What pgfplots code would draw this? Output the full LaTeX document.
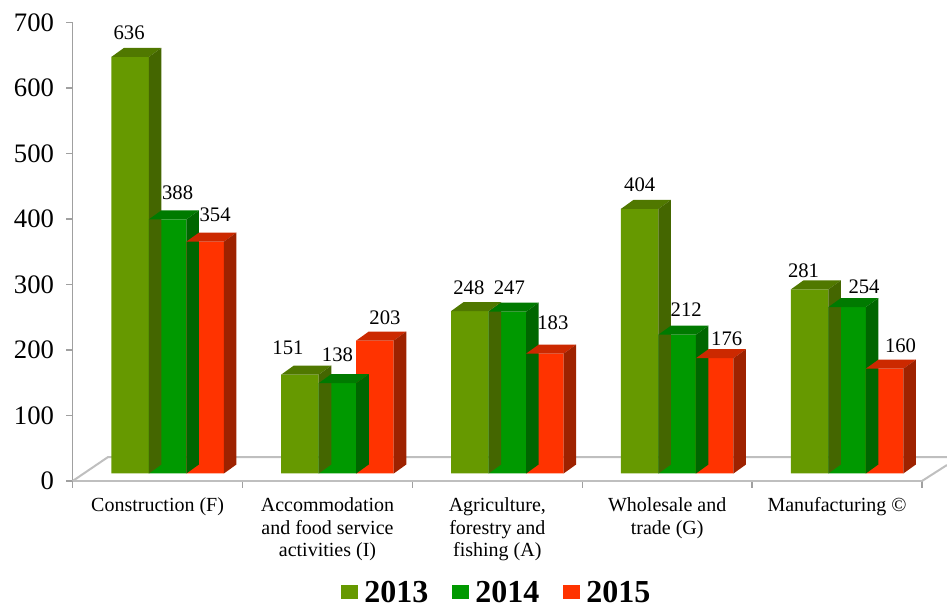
\documentclass[border=0pt]{standalone}
\usepackage{fontspec}
\setmainfont{Liberation Serif}
\usepackage{pgfplots}
\pgfplotsset{compat=1.18}
\usepackage{pgfplotstable}

\definecolor{c13}{HTML}{669900}\definecolor{c13t}{HTML}{507800}\definecolor{c13s}{HTML}{446600}
\definecolor{c14}{HTML}{009900}\definecolor{c14t}{HTML}{007A00}\definecolor{c14s}{HTML}{006600}
\definecolor{c15}{HTML}{FF3300}\definecolor{c15t}{HTML}{CC2900}\definecolor{c15s}{HTML}{9E2200}
\definecolor{floorc}{HTML}{BFBFBF}
\definecolor{axc}{HTML}{A0A0A0}

\def\bdx{9.4pt}\def\bdy{6.75pt}
\newcommand\drawbox[3]{%
  \pgfmathsetlengthmacro\bL{#1-14.0625pt}%
  \pgfmathsetlengthmacro\bR{#1+14.0625pt}%
  \pgfmathsetlengthmacro\bh{0.49125pt*\barv}%
  \pgfsetfillcolor{#2}%
  \pgfpathmoveto{\pgfqpoint{\bL}{0pt}}%
  \pgfpathlineto{\pgfqpoint{\bR}{0pt}}%
  \pgfpathlineto{\pgfpoint{\bR+\bdx}{\bdy}}%
  \pgfpathlineto{\pgfpoint{\bL+\bdx}{\bdy}}%
  \pgfpathclose\pgfusepath{fill}%
  \pgfsetfillcolor{#3}%
  \pgfpathmoveto{\pgfqpoint{\bR}{0pt}}%
  \pgfpathlineto{\pgfpoint{\bR+\bdx}{\bdy}}%
  \pgfpathlineto{\pgfpoint{\bR+\bdx}{\bdy-\bh}}%
  \pgfpathlineto{\pgfpoint{\bR}{-\bh}}%
  \pgfpathclose\pgfusepath{fill}}
\pgfdeclareplotmark{box13}{\drawbox{-20.625pt}{c13t}{c13s}}
\pgfdeclareplotmark{box14}{\drawbox{7.5pt}{c14t}{c14s}}
\pgfdeclareplotmark{box15}{\drawbox{35.625pt}{c15t}{c15s}}

% columns: category index, value, label offset x / y (px, from bar front-top centre of the category)
\pgfplotstableread{
x y lx ly
0 636 -28.5 24
1 151 -39.5 27
2 248 -28.5 23
3 404 -27.5 24
4 281 -33.5 19
}\tA
\pgfplotstableread{
x y lx ly
0 388 20 27
1 138 10 28
2 247 12 24
3 212 19 25
4 254 27 20
}\tB
\pgfplotstableread{
x y lx ly
0 354 57.5 27
1 203 57.5 23
2 183 55.5 31
3 176 59.5 19
4 160 63.5 23
}\tC

\begin{document}
\begin{tikzpicture}
\useasboundingbox (0pt,0pt) rectangle (710.25pt,455.25pt);
\begin{axis}[
  at={(54.525pt,94.5pt)}, anchor=south west, scale only axis,
  width=636.975pt, height=343.875pt,
  xmin=-0.5, xmax=4.5, ymin=0, ymax=700,
  axis x line*=bottom, axis y line*=left,
  x axis line style={floorc, line width=1.5pt},
  y axis line style={axc, line width=1pt},
  xtick={-0.5,0.5,1.5,2.5,3.5,4.5}, x tick label as interval,
  xticklabels={{Construction (F)},{Accommodation\\and food service\\activities (I)},{Agriculture,\\forestry and\\fishing (A)},{Wholesale and\\trade (G)},{Manufacturing ©}},
  ytick={0,100,...,700},
  tick align=outside, major tick length=5pt,
  tick style={axc, line width=1pt},
  xticklabel style={font=\fontsize{15}{17}\selectfont, align=center, yshift=-4pt},
  yticklabel style={font=\fontsize{20}{21}\selectfont, xshift=-5.5pt},
  /pgf/number format/assume math mode=true,
  clip=false,
]
\draw[floorc, line width=1.5pt] (axis cs:-0.5,0) -- (axis cs:-0.292,36.6) -- (axis cs:4.647,36.6);
\draw[floorc, line width=1.5pt] (axis cs:4.5,0) -- (axis cs:4.647,24.4);
\end{axis}
\begin{axis}[
  at={(54.525pt,94.5pt)}, anchor=south west, scale only axis,
  width=636.975pt, height=343.875pt,
  xmin=-0.5, xmax=4.5, ymin=-11.45, ymax=688.55,
  hide axis, clip=false,
  visualization depends on={\thisrow{lx}\as\labx},
  visualization depends on={\thisrow{ly}\as\laby},
  visualization depends on={\thisrow{y}\as\barv},
  every node near coord/.append style={font=\fontsize{15.5}{16}\selectfont, text=black, anchor=center, xshift={0.75pt*\labx}, yshift={0.75pt*\laby}, inner sep=0pt},
  /pgf/number format/assume math mode=true,
  legend columns=3,
  legend style={draw=none, fill=none, at={(0.4984,-0.2421)}, anchor=center,
    font=\bfseries\fontsize{24}{26}\selectfont,
    nodes={inner sep=0pt, text depth=0pt},
    /tikz/every odd column/.append style={column sep=4.5pt},
    /tikz/every even column/.append style={column sep=18pt}},
]
\addplot[ybar, bar width=28.125pt, bar shift=-20.625pt, fill=c13, draw=none, nodes near coords,
  legend image code/.code={\fill[c13] (0pt,-5.6pt) rectangle (12.75pt,5.6pt);}] table[x=x,y=y] {\tA};
\addlegendentry{2013}
\addplot[only marks, mark=box13, forget plot] table[x=x,y=y] {\tA};
\addplot[ybar, bar width=28.125pt, bar shift=7.5pt, fill=c14, draw=none, nodes near coords,
  legend image code/.code={\fill[c14] (0pt,-5.6pt) rectangle (12.75pt,5.6pt);}] table[x=x,y=y] {\tB};
\addlegendentry{2014}
\addplot[only marks, mark=box14, forget plot] table[x=x,y=y] {\tB};
\addplot[ybar, bar width=28.125pt, bar shift=35.625pt, fill=c15, draw=none, nodes near coords,
  legend image code/.code={\fill[c15] (0pt,-5.6pt) rectangle (12.75pt,5.6pt);}] table[x=x,y=y] {\tC};
\addlegendentry{2015}
\addplot[only marks, mark=box15, forget plot] table[x=x,y=y] {\tC};
\end{axis}
\end{tikzpicture}
\end{document}
